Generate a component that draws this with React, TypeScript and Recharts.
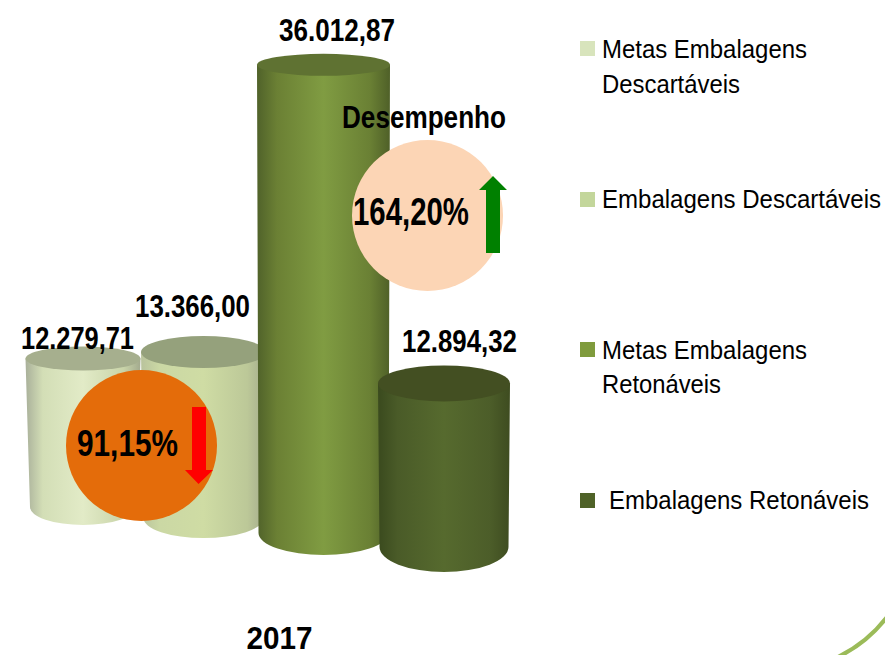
import { BarChart, Bar, XAxis, YAxis, Legend, LabelList } from "recharts";

const CATEGORIES = ["2017"];
const SERIES_KEYS = ["metasDesc", "emb", "metasRet", "ret"];
const SERIES_NAMES = [
  "Metas Embalagens Descartáveis",
  "Embalagens Descartáveis",
  "Metas Embalagens Retonáveis",
  "Embalagens Retonáveis",
];
const SERIES_VALUES = [12279.71, 13366.0, 36012.87, 12894.32];
const SERIES_COLORS = ["#d8e4bc", "#c3d69b", "#7f9b3d", "#4f6228"];

const chartData = CATEGORIES.map((year) => {
  const row: Record<string, unknown> = { year };
  SERIES_KEYS.forEach((key, i) => {
    row[key] = SERIES_VALUES[i];
  });
  return row;
});

// the source is a 3D column chart: each column sits at its own depth
const COLUMNS = [
  { depth: -26, persp: 0.93, topW: 115, botW: 106, topRy: 12, botRy: 18, dx: 0, top: "#a6af8e", stops: ["#a9b09a", "#d3deb6", "#e2ebc7", "#c9d4a9", "#a3aa8e"] },
  { depth: -15, persp: 0.955, topW: 125, botW: 120, topRy: 16, botRy: 20, dx: 0.5, top: "#95a17c", stops: ["#b9c39c", "#cbd8a4", "#cfdca4", "#bcc898", "#a4ab8c"] },
  { depth: 0, persp: 1, topW: 133, botW: 130, topRy: 11, botRy: 22, dx: 0.5, top: "#5f7232", stops: ["#50622a", "#6b8034", "#809c42", "#6a8034", "#4f6028"] },
  { depth: 14, persp: 0.976, topW: 132, botW: 129, topRy: 18, botRy: 25, dx: 1, top: "#434f22", stops: ["#3a4a1e", "#4a5b28", "#566a2e", "#4c5d29", "#3e4c20"] },
];

const LABEL_STYLE = [
  { cx: 77.5, dy: -24, len: 113 },
  { cx: 192.5, dy: -42, len: 115 },
  { cx: 337, dy: -24, len: 116 },
  { cx: 459.5, dy: -13, len: 115 },
];

const LEGEND_ROWS = [
  { box: 41, textX: 602, lines: [{ t: "Metas Embalagens", y: 58, len: 205 }, { t: "Descartáveis", y: 92.5, len: 138 }] },
  { box: 192, textX: 602, lines: [{ t: "Embalagens Descartáveis", y: 208, len: 279 }] },
  { box: 342, textX: 602, lines: [{ t: "Metas Embalagens", y: 359, len: 205 }, { t: "Retonáveis", y: 392.5, len: 119 }] },
  { box: 493, textX: 609, lines: [{ t: "Embalagens Retonáveis", y: 509, len: 260 }] },
];

const FONT = '"Liberation Sans", Arial, sans-serif';

function formatValue(v: unknown): string {
  const [whole, dec] = Number(v).toFixed(2).split(".");
  return `${whole.replace(/\B(?=(\d{3})+$)/g, ".")},${dec}`;
}

function cylinder(i: number) {
  return function Cylinder(props: any) {
    const { x, y, width, height } = props;
    const col = COLUMNS[i];
    const cx = x + width / 2 + col.dx;
    const base = y + height + col.depth;
    const topY = base - height * col.persp;
    const tw = col.topW / 2;
    const bw = col.botW / 2;
    const body = `M${cx - tw} ${topY} L${cx - bw} ${base} A${bw} ${col.botRy} 0 0 0 ${cx + bw} ${base} L${cx + tw} ${topY} Z`;
    return (
      <g>
        <path d={body} fill={`url(#cyl${i})`} />
        <ellipse cx={cx} cy={topY} rx={tw} ry={col.topRy} fill={col.top} />
      </g>
    );
  };
}

function valueLabel(i: number) {
  return function ValueLabel(props: any) {
    const { y, value } = props;
    const s = LABEL_STYLE[i];
    return (
      <text x={s.cx} y={y + s.dy} textAnchor="middle" fontFamily={FONT} fontWeight="bold" fontSize={32} fill="#000" textLength={s.len} lengthAdjust="spacingAndGlyphs">
        {formatValue(value)}
      </text>
    );
  };
}

function YearTick({ x, y, payload }: any) {
  return (
    <text x={x + 16.5} y={y + 108} textAnchor="middle" fontFamily={FONT} fontWeight="bold" fontSize={32} fill="#000" textLength={66} lengthAdjust="spacingAndGlyphs">
      {payload.value}
    </text>
  );
}

function LegendBlock({ payload }: any) {
  return (
    <svg width={320} height={560} style={{ display: "block", overflow: "visible" }}>
      {(payload ?? []).map((p: any, i: number) => (
        <g key={p.value}>
          <rect x={15} y={LEGEND_ROWS[i].box} width={15} height={15} fill={p.color} />
          {LEGEND_ROWS[i].lines.map((l) => (
            <text key={l.t} x={LEGEND_ROWS[i].textX - 565} y={l.y} fontFamily={FONT} fontSize={25} fill="#000" textLength={l.len} lengthAdjust="spacingAndGlyphs">
              {l.t}
            </text>
          ))}
        </g>
      ))}
    </svg>
  );
}

// performance badges sit above the columns, so they go in their own layer
function Badges() {
  return (
    <svg width={885} height={655} style={{ position: "absolute", left: 0, top: 0, pointerEvents: "none" }}>
      <circle cx={141.5} cy={445.5} r={75.5} fill="#e46c0a" />
      <text x={77} y={456} fontFamily={FONT} fontWeight="bold" fontSize={37} fill="#000" textLength={101} lengthAdjust="spacingAndGlyphs">91,15%</text>
      <path d="M192 407 H206 V470 H213 L198.5 484 L185 470 H192 Z" fill="#ff0000" />
      <circle cx={427.5} cy={215.5} r={75.5} fill="#fcd5b5" />
      <text x={353} y={225} fontFamily={FONT} fontWeight="bold" fontSize={38} fill="#000" textLength={116} lengthAdjust="spacingAndGlyphs">164,20%</text>
      <path d="M486 253 H500 V190 H507 L493 176 L479 190 H486 Z" fill="#008000" />
      <text x={342} y={128} fontFamily={FONT} fontWeight="bold" fontSize={31} fill="#000" textLength={164} lengthAdjust="spacingAndGlyphs">Desempenho</text>
      <path d="M838 657 Q867 643 887 617" fill="none" stroke="#9bbb59" strokeWidth={4} />
    </svg>
  );
}

export default function App() {
  return (
    <div style={{ position: "absolute", left: 0, top: 0, width: 885, height: 655, background: "#fff", overflow: "hidden" }}>
      <BarChart
        width={885}
        height={655}
        data={chartData}
        margin={{ top: 13, right: 380, bottom: 0, left: 21 }}
        barCategoryGap={0}
        barGap={0}
        barSize={120}
      >
        <defs>
          {COLUMNS.map((col, i) => (
            <linearGradient key={i} id={`cyl${i}`} x1="0" y1="0" x2="1" y2="0">
              <stop offset="0%" stopColor={col.stops[0]} />
              <stop offset="15%" stopColor={col.stops[1]} />
              <stop offset="50%" stopColor={col.stops[2]} />
              <stop offset="85%" stopColor={col.stops[3]} />
              <stop offset="100%" stopColor={col.stops[4]} />
            </linearGradient>
          ))}
        </defs>
        <XAxis dataKey="year" height={122} axisLine={false} tickLine={false} tick={<YearTick />} interval={0} />
        <YAxis hide domain={[0, 40000]} />
        <Legend
          layout="vertical"
          align="center"
          verticalAlign="middle"
          itemSorter={null}
          content={<LegendBlock />}
          wrapperStyle={{ left: 565, top: 0, width: 320, height: 560 }}
        />
        {SERIES_KEYS.map((key, i) => (
          <Bar key={key} dataKey={key} name={SERIES_NAMES[i]} fill={SERIES_COLORS[i]} shape={cylinder(i)} isAnimationActive={false}>
            <LabelList dataKey={key} content={valueLabel(i)} />
          </Bar>
        ))}
      </BarChart>
      <Badges />
    </div>
  );
}
